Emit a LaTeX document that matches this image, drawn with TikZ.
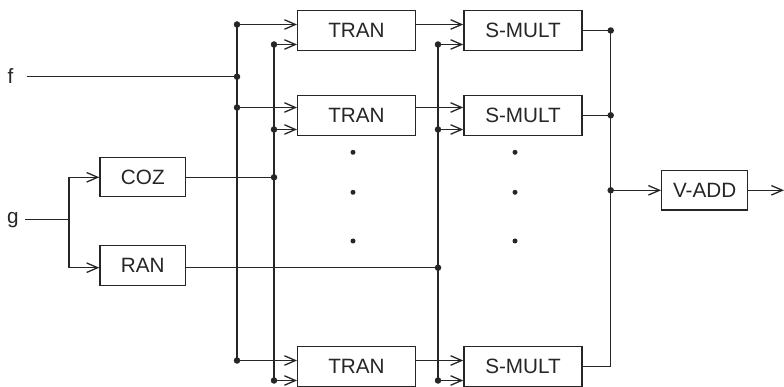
\documentclass[tikz,border=0pt]{standalone}
\usepackage{fontspec}
\setmainfont{Liberation Sans}
\usetikzlibrary{arrows.meta}
\definecolor{ink}{HTML}{262626}
\begin{document}
\begin{tikzpicture}[x=1pt,y=-1pt,
  wire/.style={draw=ink,line width=1.3pt},
  arr/.style={wire,-{Straight Barb[length=11pt,width=9.5pt,line width=1.3pt]}},
  blk/.style={draw=ink,line width=1.3pt,rectangle,inner sep=0pt,text=ink,
     font=\fontsize{20.7}{24}\selectfont,minimum height=40pt},
  lbl/.style={text=ink,font=\fontsize{20.7}{24}\selectfont,inner sep=0pt},
  jdot/.style={circle,fill=ink,inner sep=0pt,minimum size=6.5pt},
  vdot/.style={circle,fill=ink,inner sep=0pt,minimum size=5pt}]
\useasboundingbox (0,0) rectangle (784,387);
\clip (0,0) rectangle (784,387);
% blocks
\node[blk,minimum width=117.6pt] (t1) at (356.5,30.5) {TRAN};
\node[blk,minimum width=117.6pt] (t2) at (356.5,115.3) {TRAN};
\node[blk,minimum width=117.6pt] (t3) at (356.5,366.8) {TRAN};
\node[blk,minimum width=118.2pt] (s1) at (523,30.5) {S-MULT};
\node[blk,minimum width=118.2pt] (s2) at (523,115.3) {S-MULT};
\node[blk,minimum width=118.2pt] (s3) at (523,366.8) {S-MULT};
\node[blk,minimum width=85.7pt,minimum height=39pt] (coz) at (142.8,177.3) {COZ};
\node[blk,minimum width=85.7pt] (ran) at (142.8,265.5) {RAN};
\node[blk,minimum width=86pt,minimum height=39.3pt] (vadd) at (704.7,190.3) {V-ADD};
% labels
\node[lbl] (f) at (10.5,76) {f};
\node[lbl] (g) at (13,220) {g};
% coordinates
\coordinate (fs) at (26.5,76.7);
\coordinate (gs) at (25,219.3);
\coordinate (gsp) at (69,219.3);
\coordinate (gc) at (69,177.3);
\coordinate (gr) at (69,267.7);
\coordinate (a1) at (237,24.5);
\coordinate (af) at (237,76.7);
\coordinate (a2) at (237,107.5);
\coordinate (a3) at (237,360.5);
\coordinate (b1) at (274,44.5);
\coordinate (b2) at (274,129.5);
\coordinate (bc) at (274,177.3);
\coordinate (b3) at (274,380.5);
\coordinate (c1) at (438,44.5);
\coordinate (c2) at (438,129.5);
\coordinate (cr) at (438,267.7);
\coordinate (c3) at (438,380.5);
\coordinate (d1) at (610.7,30.5);
\coordinate (d2) at (610.7,115.3);
\coordinate (dv) at (610.7,190.3);
\coordinate (d3) at (610.7,366.8);
\coordinate (out) at (784,190.3);
% f and g inputs
\draw[wire] (fs) -- (af);
\draw[wire] (gs) -- (gsp);
\draw[wire] (gc) -- (gr);
\draw[arr] (gc) -- (coz.west |- gc);
\draw[arr] (gr) -- (ran.west |- gr);
\draw[wire] (coz.east |- bc) -- (bc);
\draw[wire] (ran.east |- cr) -- (cr);
% buses
\draw[wire] (a1) -- (a3);
\draw[wire] (b1) -- (b3);
\draw[wire] (c1) -- (c3);
\draw[wire] (d1) -- (d3);
% into TRAN
\foreach \p/\t in {a1/t1,a2/t2,a3/t3,b1/t1,b2/t2,b3/t3}
  \draw[arr] (\p) -- (\p -| \t.west);
% TRAN to S-MULT
\draw[arr] (t1.east |- a1) -- (s1.west |- a1);
\draw[arr] (t2.east |- a2) -- (s2.west |- a2);
\draw[arr] (t3.east |- a3) -- (s3.west |- a3);
\foreach \p/\s in {c1/s1,c2/s2,c3/s3}
  \draw[arr] (\p) -- (\p -| \s.west);
% S-MULT to bus
\draw[wire] (s1.east) -- (d1);
\draw[wire] (s2.east) -- (d2);
\draw[wire] (s3.east) -- (d3);
\draw[arr] (dv) -- (vadd.west);
\draw[arr] (vadd.east) -- (out);
% junction dots
\foreach \p in {a1,af,a2,a3,b1,b2,bc,b3,c1,c2,cr,c3,d1,d2,dv}
  \node[jdot] at (\p) {};
% ellipsis dots
\foreach \y in {152.3,192.3,241}{
  \node[vdot] at (353,\y) {};
  \node[vdot] at (515,\y) {};
}
\end{tikzpicture}
\end{document}
